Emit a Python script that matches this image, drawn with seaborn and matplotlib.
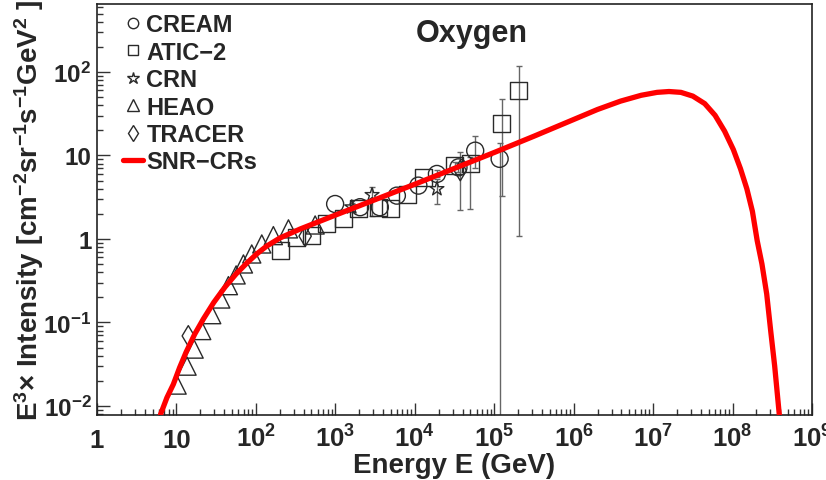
import numpy as np
import pandas as pd
import matplotlib
matplotlib.use("Agg")
import matplotlib.pyplot as plt
import seaborn as sns
from matplotlib.lines import Line2D
from matplotlib.ticker import FixedLocator, FixedFormatter, LogLocator, NullFormatter

# ---------------- data ----------------
cream_E = [994, 2050, 3630, 5950, 11100, 19000, 35500, 57600, 117000]
cream_I = [2.62, 2.40, 2.40, 3.30, 4.35, 6.0, 7.2, 11.4, 9.1]
cream_lo = [2.62, 2.40, 2.40, 3.30, 4.35, 5.5, 6.3, 7.0, 0.001]
cream_hi = [2.62, 2.40, 2.40, 3.30, 4.35, 6.6, 8.2, 17.3, 14.0]

atic_E = [202, 327, 504, 782, 1270, 1960, 3490, 5000, 8200, 12900, 32000, 50000, 125000, 203000]
atic_I = [0.72, 1.05, 1.09, 1.51, 1.74, 2.29, 2.40, 2.29, 3.4, 5.5, 7.6, 7.9, 23.8, 59.7]
atic_lo = [0.72, 1.05, 1.09, 1.51, 1.74, 2.29, 2.40, 2.29, 3.4, 5.5, 7.0, 2.3, 3.3, 1.08]
atic_hi = [0.72, 1.05, 1.09, 1.51, 1.74, 2.29, 2.40, 2.29, 3.4, 5.5, 8.3, 9.5, 47.5, 117]

crn_E = [1610, 2900, 19000]
crn_I = [2.4, 3.37, 3.97]
crn_lo = [2.1, 1.88, 2.63]
crn_hi = [2.7, 4.2, 5.2]

heao_E = [10.2, 13.6, 16.7, 20.8, 27.8, 36.1, 45.1, 56.4, 69.7, 88.7, 118.6, 166, 257, 557]
heao_I = [0.0178, 0.030, 0.048, 0.080, 0.124, 0.191, 0.276, 0.371, 0.502, 0.661, 0.871, 1.096, 1.32, 1.47]

tracer_E = [14.1, 417, 37400]
tracer_I = [0.069, 1.08, 6.6]
tracer_lo = [0.069, 1.08, 2.2]
tracer_hi = [0.069, 1.08, 10.9]

# SNR-CRs model curve as (log10 E, log10 I) pairs
snr_logE = [0.80, 0.88, 0.961, 1.04, 1.121, 1.23, 1.339, 1.47, 1.612, 1.75, 1.885,
            2.01, 2.137, 2.30, 2.56, 3.0, 3.5, 4.0, 4.5, 5.0, 5.5, 6.0, 6.3, 6.59,
            6.85, 7.05, 7.2, 7.35, 7.5, 7.65, 7.78, 7.9, 8.01, 8.1, 8.18, 8.25,
            8.31, 8.37, 8.43, 8.48, 8.53, 8.59]
snr_logI = [-2.10, -1.90, -1.74, -1.54, -1.357, -1.14, -0.958, -0.76, -0.575, -0.42,
            -0.29, -0.18, -0.085, 0.01, 0.12, 0.285, 0.47, 0.655, 0.845, 1.035, 1.23,
            1.43, 1.55, 1.65, 1.72, 1.755, 1.765, 1.755, 1.71, 1.62, 1.48, 1.29, 1.07,
            0.84, 0.60, 0.33, -0.02, -0.30, -0.66, -1.10, -1.52, -2.12]

x_ticks = [1, 10, 1e2, 1e3, 1e4, 1e5, 1e6, 1e7, 1e8, 1e9]
x_ticklabels = ["1", "10", "$10^{2}$", "$10^{3}$", "$10^{4}$", "$10^{5}$",
                "$10^{6}$", "$10^{7}$", "$10^{8}$", "$10^{9}$"]
y_ticks = [1e-2, 1e-1, 1, 10, 1e2]
y_ticklabels = ["$10^{-2}$", "$10^{-1}$", "1", "10", "$10^{2}$"]

# ---------------- style ----------------
sns.set_theme(style="ticks")
plt.rcParams["font.family"] = ["Liberation Sans", "DejaVu Sans"]
plt.rcParams["font.weight"] = "bold"
plt.rcParams["mathtext.fontset"] = "custom"
plt.rcParams["mathtext.rm"] = "Liberation Sans:bold"
plt.rcParams["mathtext.it"] = "Liberation Sans:bold"
plt.rcParams["mathtext.bf"] = "Liberation Sans:bold"
plt.rcParams["mathtext.default"] = "rm"

W, H = 826, 481
fig = plt.figure(figsize=(W / 100, H / 100), dpi=100)
ax = fig.add_axes([97 / W, 1 - 416 / H, (812 - 97) / W, (416 - 5) / H])
ax.set_xscale("log")
ax.set_yscale("log")

edge = "#2a2a2a"
ecol = "#666666"

for E, I, lo, hi in [(cream_E, cream_I, cream_lo, cream_hi),
                     (atic_E, atic_I, atic_lo, atic_hi),
                     (crn_E, crn_I, crn_lo, crn_hi),
                     (tracer_E, tracer_I, tracer_lo, tracer_hi)]:
    E = np.asarray(E, float); I = np.asarray(I, float)
    lo = np.asarray(lo, float); hi = np.asarray(hi, float)
    keep = (lo < I) | (hi > I)
    if keep.any():
        ax.errorbar(E[keep], I[keep], yerr=[I[keep] - lo[keep], hi[keep] - I[keep]],
                    fmt="none", ecolor=ecol, elinewidth=1.0, capsize=2.5,
                    capthick=1.0, zorder=2)

series = [
    (cream_E, cream_I, "o", 150),
    (atic_E, atic_I, "s", 150),
    (crn_E, crn_I, "*", 110),
    (heao_E, heao_I, "^", 170),
    (tracer_E, tracer_I, "d", 110),
]
for E, I, m, s in series:
    sns.scatterplot(x=E, y=I, marker=m, s=s, facecolor="none", edgecolor=edge,
                    linewidth=1.0, ax=ax, zorder=3)

curve = pd.DataFrame({"E": np.power(10.0, snr_logE), "I": np.power(10.0, snr_logI)})
sns.lineplot(data=curve, x="E", y="I", color="#ff0000", linewidth=3.8, ax=ax,
             zorder=4, sort=False)

ax.set_xlim(1, 1e9)
ax.set_ylim(0.0078, 650)

ax.xaxis.set_major_locator(FixedLocator(x_ticks))
ax.xaxis.set_major_formatter(FixedFormatter(x_ticklabels))
ax.xaxis.set_minor_locator(LogLocator(base=10, subs=np.arange(2, 10), numticks=100))
ax.xaxis.set_minor_formatter(NullFormatter())
ax.yaxis.set_major_locator(FixedLocator(y_ticks))
ax.yaxis.set_major_formatter(FixedFormatter(y_ticklabels))
ax.yaxis.set_minor_locator(LogLocator(base=10, subs=np.arange(2, 10), numticks=100))
ax.yaxis.set_minor_formatter(NullFormatter())

ax.tick_params(which="both", direction="in", color="#333333", width=1.0,
               top=False, right=False)
ax.tick_params(which="major", length=9)
ax.tick_params(axis="x", which="major", labelsize=18.5, pad=23)
ax.tick_params(axis="y", which="major", labelsize=17.5, pad=4)
ax.tick_params(which="minor", length=4.5)
for lbl in ax.get_xticklabels():
    lbl.set_va("baseline")
    lbl.set_fontweight("bold")
for lbl in ax.get_yticklabels():
    lbl.set_fontweight("bold")

for sp in ax.spines.values():
    sp.set_visible(True)
    sp.set_color("#222222")
    sp.set_linewidth(1.2)

ax.set_xlabel("Energy E (GeV)", fontsize=20, fontweight="bold", labelpad=0)
ax.set_ylabel("E$^{3}$× Intensity [cm$^{-2}$sr$^{-1}$s$^{-1}$GeV$^{2}$ ]",
              fontsize=20, fontweight="bold", labelpad=-2)

ax.text(0.524, 0.93, "Oxygen", transform=ax.transAxes, ha="center", va="center",
        fontsize=22, fontweight="bold")

handles = [
    Line2D([], [], ls="none", marker="o", mfc="none", mec=edge, ms=7.5, mew=1),
    Line2D([], [], ls="none", marker="s", mfc="none", mec=edge, ms=7.5, mew=1),
    Line2D([], [], ls="none", marker="*", mfc="none", mec=edge, ms=9, mew=1),
    Line2D([], [], ls="none", marker="^", mfc="none", mec=edge, ms=8, mew=1),
    Line2D([], [], ls="none", marker="d", mfc="none", mec=edge, ms=8, mew=1),
    Line2D([], [], color="#ff0000", lw=3.8),
]
labels = ["CREAM", "ATIC\u22122", "CRN", "HEAO", "TRACER", "SNR\u2212CRs"]
ax.legend(handles, labels, loc="upper left", bbox_to_anchor=(0.036, 0.978),
          frameon=False, prop={"weight": "bold", "size": 17}, handlelength=0.85,
          handletextpad=0.15, labelspacing=0.19, borderpad=0, borderaxespad=0)

fig.savefig("out.png", dpi=100)
